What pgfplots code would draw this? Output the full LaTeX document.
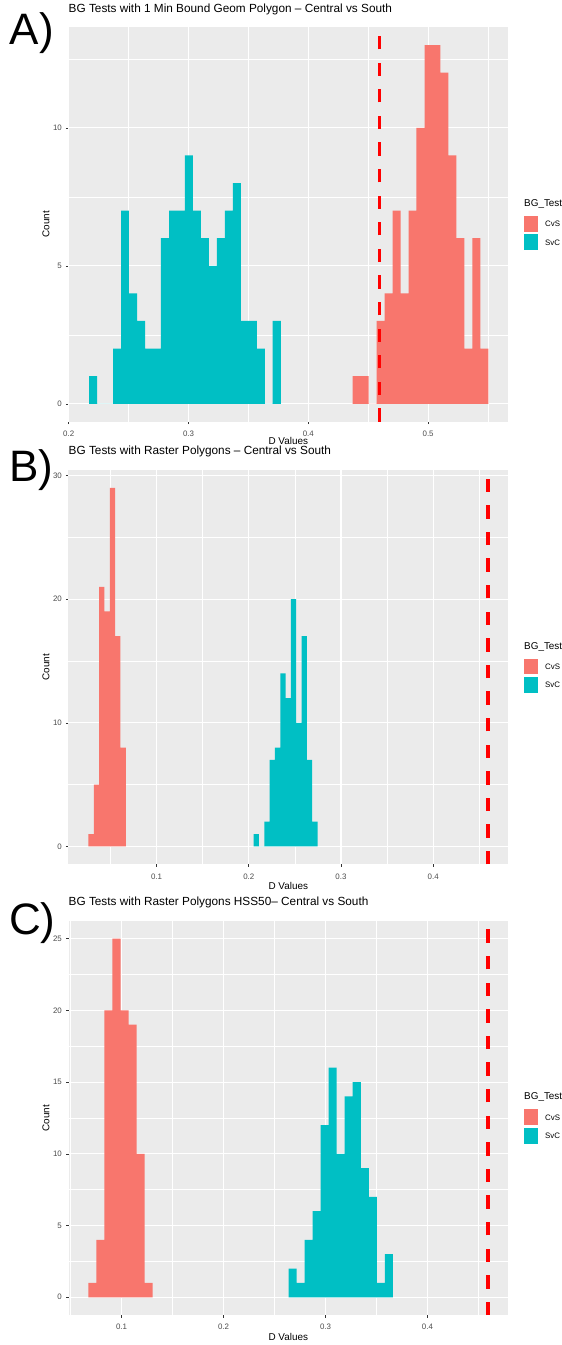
\documentclass[border=0pt]{standalone}
\usepackage{pgfplots}
\pgfplotsset{compat=1.18}
\usepackage{fontspec}
\setmainfont{Liberation Sans}

\definecolor{ggred}{HTML}{F8766D}
\definecolor{ggteal}{HTML}{00BFC4}
\definecolor{gg92}{HTML}{EBEBEB}
\definecolor{gg30}{HTML}{4D4D4D}
\definecolor{gg20}{HTML}{333333}

\pgfplotsset{
  ggpanel/.style={
    scale only axis, width=439.5pt, height=394.5pt, anchor=south west,
    axis background/.style={fill=gg92},
    axis line style={draw=none},
    xmajorgrids, ymajorgrids, xminorgrids, yminorgrids,
    major grid style={white, line width=1.05pt},
    minor grid style={white, line width=0.5pt},
    tick pos=left, tick align=outside,
    major tick length=2.5pt, minor tick length=0pt,
    major tick style={gg20, line width=0.5pt},
    ticklabel style={font=\fontsize{7.9}{9}\selectfont, text=gg30, inner sep=0pt},
    /pgf/number format/assume math mode=true,
    xticklabel style={yshift=-6.5pt},
    yticklabel style={xshift=-4pt},
    xlabel={D Values}, ylabel={Count},
    every axis x label/.style={at={(axis description cs:0.5,-0.0545)}, anchor=center,
      font=\fontsize{9.9}{11}\selectfont},
    every axis y label/.style={at={(axis description cs:-0.0512,0.5)}, anchor=center,
      rotate=90, font=\fontsize{9.9}{11}\selectfont},
    title style={at={(axis description cs:0,1)}, anchor=base west, yshift=9pt,
      inner sep=0pt, font=\fontsize{11.8}{13}\selectfont},
  },
  hist/.style={ybar interval, draw=none, fill=#1},
  cutoff/.style={red, line width=3.3pt, dash pattern=on 13.3pt off 13.3pt},
}

% legend block beside each panel; #1 = top edge of the panel
\newcommand{\gglegend}[1]{%
  \node[anchor=west, inner sep=0pt, font=\fontsize{9.9}{11}\selectfont]
    at (524pt, #1pt-176.7pt) {BG\_Test};
  \fill[ggred]  (524.3pt, #1pt-188.7pt) rectangle (537.7pt, #1pt-204.4pt);
  \fill[ggteal] (524.3pt, #1pt-207.0pt) rectangle (537.7pt, #1pt-223.0pt);
  \node[anchor=west, inner sep=0pt, font=\fontsize{7.9}{9}\selectfont]
    at (545pt, #1pt-196.6pt) {CvS};
  \node[anchor=west, inner sep=0pt, font=\fontsize{7.9}{9}\selectfont]
    at (545pt, #1pt-215.0pt) {SvC};
}

\begin{document}
\begin{tikzpicture}
\fill[white] (0pt,0pt) rectangle (562pt,1345pt);
\path[use as bounding box] (0pt,0pt) rectangle (562pt,1345pt);

% ---------------- A) ----------------
\begin{axis}[ggpanel, at={(68.5pt,923.3pt)},
  xmin=0.1998, xmax=0.5667, ymin=-0.65, ymax=13.65,
  xtick={0.2,0.3,0.4,0.5}, minor xtick={0.25,0.35,0.45,0.55},
  ytick={0,5,10}, minor ytick={2.5,7.5,12.5},
  every axis x label/.append style={at={(axis description cs:0.5,-0.0495)}},
  title={BG Tests with 1 Min Bound Geom Polygon – Central vs South}]
\addplot[hist=ggteal] table {
x y
0.2170 1
0.2237 0
0.2303 0
0.2370 2
0.2437 7
0.2503 4
0.2570 3
0.2637 2
0.2703 2
0.2770 6
0.2837 7
0.2903 7
0.2970 9
0.3037 7
0.3103 6
0.3170 5
0.3237 6
0.3303 7
0.3370 8
0.3437 3
0.3503 3
0.3570 2
0.3637 0
0.3703 3
0.3770 0
};
\addplot[hist=ggred] table {
x y
0.4370 1
0.4437 1
0.4503 0
0.4570 3
0.4637 4
0.4703 7
0.4770 4
0.4837 7
0.4903 10
0.4970 13
0.5037 13
0.5103 12
0.5170 9
0.5237 6
0.5303 2
0.5370 6
0.5437 2
0.5503 0
};
\addplot[cutoff] coordinates {(0.4594,-0.65) (0.4594,13.65)};
\end{axis}
\node[anchor=base west, inner sep=0pt, font=\fontsize{44}{48}\selectfont] at (9.5pt,1300pt) {A)};
\gglegend{1317.7}

% ---------------- B) ----------------
\begin{axis}[ggpanel, at={(68.5pt,480.6pt)},
  xmin=0.0046, xmax=0.48106, ymin=-1.45, ymax=30.45,
  xtick={0.1,0.2,0.3,0.4}, minor xtick={0.05,0.15,0.25,0.35,0.45},
  ytick={0,10,20,30}, minor ytick={5,15,25},
  title={BG Tests with Raster Polygons – Central vs South}]
\addplot[hist=ggred] table {
x y
0.02626 1
0.03204 5
0.03781 21
0.04359 19
0.04936 29
0.05514 17
0.06091 8
0.06669 0
};
\addplot[hist=ggteal] table {
x y
0.20530 1
0.21108 0
0.21685 2
0.22263 7
0.22840 8
0.23418 14
0.23995 12
0.24573 20
0.25150 10
0.25728 17
0.26306 7
0.26883 2
0.27461 0
};
\addplot[cutoff] coordinates {(0.4594,-1.45) (0.4594,30.45)};
\end{axis}
\node[anchor=base west, inner sep=0pt, font=\fontsize{44}{48}\selectfont] at (9pt,863.3pt) {B)};
\gglegend{875.1}

% ---------------- C) ----------------
\begin{axis}[ggpanel, at={(68.5pt,29.8pt)},
  xmin=0.04794, xmax=0.47899, ymin=-1.25, ymax=26.25,
  xtick={0.1,0.2,0.3,0.4}, minor xtick={0.05,0.15,0.25,0.35,0.45},
  ytick={0,5,10,15,20,25}, minor ytick={2.5,7.5,12.5,17.5,22.5},
  title={BG Tests with Raster Polygons HSS50– Central vs South}]
\addplot[hist=ggred] table {
x y
0.06753 1
0.07538 4
0.08324 20
0.09109 25
0.09895 20
0.10680 19
0.11465 10
0.12251 1
0.13036 0
};
\addplot[hist=ggteal] table {
x y
0.26388 2
0.27173 1
0.27959 4
0.28744 6
0.29530 12
0.30315 16
0.31100 10
0.31886 14
0.32671 15
0.33457 9
0.34242 7
0.35027 1
0.35813 3
0.36598 0
};
\addplot[cutoff] coordinates {(0.4594,-1.25) (0.4594,26.25)};
\end{axis}
\node[anchor=base west, inner sep=0pt, font=\fontsize{44}{48}\selectfont] at (9pt,410pt) {C)};
\gglegend{424.3}
\end{tikzpicture}
\end{document}
